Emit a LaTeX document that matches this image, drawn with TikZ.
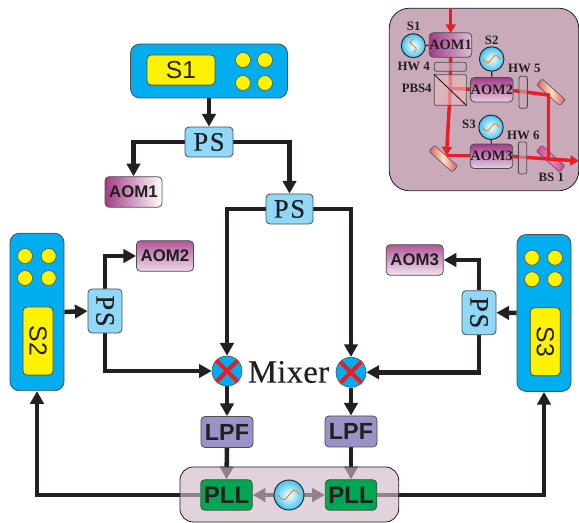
\documentclass[tikz,border=0pt]{standalone}
\usepackage{fontspec}
\usepackage{graphicx}
\setmainfont{Liberation Serif}
\newfontfamily\sansfont{Liberation Sans}
\newfontfamily\psfont[LetterSpace=6,FakeBold=0.25]{Liberation Serif}
\newfontfamily\mixfont[LetterSpace=1,FakeBold=0.4]{Liberation Serif}
\usetikzlibrary{arrows.meta,backgrounds}

\definecolor{inkblack}{HTML}{231F20}
\definecolor{boxblue}{HTML}{00AEEF}
\definecolor{boxyellow}{HTML}{FFF200}
\definecolor{psblue}{HTML}{8FD8F8}
\definecolor{lpfviolet}{HTML}{9B93C8}
\definecolor{pllgreen}{HTML}{00A651}
\definecolor{pllback}{RGB}{207,186,199}
\definecolor{insetback}{HTML}{C9AABB}
\definecolor{aomdark}{HTML}{A23C88}
\definecolor{beamred}{HTML}{ED1C24}
\definecolor{bsmagenta}{HTML}{D6388F}

\def\px{0.75pt}

\tikzset{
  wire/.style={inkblack, line width=3.4pt, -{Triangle[length=9.5pt,width=10pt]}},
  beam/.style={beamred, line width=2.6pt},
  beamarrow/.style={beam, -{Triangle[length=6.5pt,width=7.5pt]}},
  rbox/.style={draw=inkblack!80, line width=0.6pt, rounded corners=3pt, inner sep=0pt, text=inkblack},
  source/.style={rbox, fill=boxblue, rounded corners=7pt},
  display/.style={rbox, fill=boxyellow, font=\sansfont\fontsize{18.5}{18.5}\selectfont},
  knob/.style={circle, draw=inkblack!75, line width=0.5pt, fill=boxyellow, inner sep=0pt, minimum size=15*\px},
  psbox/.style={rbox, fill=psblue, font=\psfont\fontsize{20}{20}\selectfont},
  aomtag/.style={rbox, font=\sansfont\bfseries\fontsize{12.6}{12.6}\selectfont, minimum width=57*\px, minimum height=30.5*\px},
  lpfbox/.style={rbox, fill=lpfviolet, font=\sansfont\bfseries\fontsize{17.5}{17.5}\selectfont, minimum width=52*\px, minimum height=31*\px},
  pllbox/.style={rbox, fill=pllgreen, font=\sansfont\bfseries\fontsize{18}{18}\selectfont, minimum width=51.5*\px, minimum height=30.5*\px},
  mixer/.style={circle, draw=inkblack!75, line width=0.5pt, fill=boxblue, inner sep=0pt, minimum size=30*\px},
  crossbar/.style={beamred, line width=3pt},
  osc/.style={circle, draw=inkblack, line width=0.7pt, inner sep=0pt, shade, inner color=white, outer color=boxblue!75},
  inaom/.style={rbox, font=\bfseries\fontsize{10.8}{10.8}\selectfont, minimum width=42.5*\px, minimum height=24.5*\px},
  plate/.style={rbox, rounded corners=1.5pt, fill=insetback, fill opacity=0.6, text opacity=1},
  mirror/.style={draw=inkblack!75, line width=0.5pt, rounded corners=0.8pt, inner sep=0pt, rotate=-42, minimum width=31*\px, minimum height=8*\px},
  pinkmirror/.style={mirror, left color=beamred!55!insetback, right color=beamred!55!insetback, middle color=white!75!orange},
  inlabel/.style={inkblack, inner sep=0pt, font=\bfseries\fontsize{9.6}{9.6}\selectfont},
  stub/.style={inkblack, line width=0.8pt},
  wave/.pic={\draw[orange, line width=0.7pt] plot[domain=-1:1, samples=30, smooth] ({\x*#1}, {-sin(\x*180)*#1*0.42});}
}

\begin{document}
\begin{tikzpicture}[x=\px, y=-\px]
\useasboundingbox (0,0) rectangle (579,523);

% ----------------------------
% MAIN SOURCES
% ----------------------------
\node[source, minimum width=157*\px, minimum height=54*\px] (s1) at (209,71) {};
\node[display, minimum width=68*\px, minimum height=30*\px] (s1d) at (181,70) {S1};
\foreach \kx in {243,265} \foreach \ky in {60,83}
  \node[knob] at (\kx,\ky) {};

\node[source, minimum width=54*\px, minimum height=157.5*\px] (s2) at (37,312) {};
\node[display, minimum width=30*\px, minimum height=68*\px] (s2d) at (38,341) {\rotatebox{-90}{S2}};
\foreach \kx in {25,48.7} \foreach \ky in {256,278}
  \node[knob] at (\kx,\ky) {};

\node[source, minimum width=54*\px, minimum height=157*\px] (s3) at (544,313) {};
\node[display, minimum width=30*\px, minimum height=68*\px] (s3d) at (545.3,341.7) {\rotatebox{-90}{S3}};
\foreach \kx in {532,555} \foreach \ky in {257.7,279.3}
  \node[knob] at (\kx,\ky) {};

% ----------------------------
% SPLITTERS AND AOM TAGS
% ----------------------------
\node[psbox, minimum width=48*\px, minimum height=30*\px] (ps1) at (209,142) {PS};
\node[psbox, minimum width=47*\px, minimum height=30*\px] (ps2) at (289.5,209) {PS};
\node[psbox, minimum width=34*\px, minimum height=44*\px] (ps3) at (105,311) {\rotatebox{-90}{PS}};
\node[psbox, minimum width=34*\px, minimum height=44*\px] (ps4) at (479,312.7) {\rotatebox{-90}{PS}};

\node[aomtag, left color=aomdark, right color=white] (aom1) at (133.5,192) {AOM1};
\node[aomtag, top color=aomdark!85, bottom color=aomdark!20] (aom2) at (165,256) {AOM2};
\node[aomtag, top color=aomdark!85, bottom color=aomdark!15] (aom3) at (414.7,260) {AOM3};

% ----------------------------
% MIXERS, FILTERS, LOCKING UNIT
% ----------------------------
\node[mixer] (mix1) at (227,371) {};
\node[mixer] (mix2) at (351,372.3) {};
\draw[crossbar] (mix1.north west) -- (mix1.south east);
\draw[crossbar] (mix1.north east) -- (mix1.south west);
\draw[crossbar] (mix2.north west) -- (mix2.south east);
\draw[crossbar] (mix2.north east) -- (mix2.south west);
\node[inkblack, inner sep=0pt, font=\mixfont\fontsize{24.5}{24.5}\selectfont] (mixlabel) at (288.5,372) {Mixer};

\node[lpfbox] (lpf1) at (227,432) {LPF};
\node[lpfbox] (lpf2) at (351,431.5) {LPF};
\node[pllbox] (pll1) at (226.5,495) {PLL};
\node[pllbox] (pll2) at (351,495) {PLL};
\node[osc, minimum size=30*\px] (oscn) at (289,495) {};
\pic at (oscn) {wave=11};

% Wires lie under the see-through locking unit
\begin{scope}[on background layer]
\draw[wire] (s1.south) -- (ps1.north);
\draw[wire] (ps1.west) -| (aom1.north);
\draw[wire] (ps1.east) -| (ps2.north);
\draw[wire] (ps2.west) -| (mix1.north);
\draw[wire] (ps2.east) -| (mix2.north);
\draw[wire] (s2.east) -- (ps3.west);
\draw[wire] (ps3.north) |- (aom2.west);
\draw[wire] (ps3.south) |- (mix1.west);
\draw[wire] (s3.west) -- (ps4.east);
\draw[wire] (ps4.north) |- (aom3.east);
\draw[wire] (ps4.south) |- (mix2.east);
\draw[wire] (mix1.south) -- (lpf1.north);
\draw[wire] (mix2.south) -- (lpf2.north);
\draw[wire] (lpf1.south) -- (pll1.north);
\draw[wire] (lpf2.south) -- (pll2.north);
\draw[wire] (pll1.west) -| (s2.south);
\draw[wire] (pll2.east) -| (s3.south);
\draw[wire, line width=2.6pt] (oscn.west) -- (pll1.east);
\draw[wire, line width=2.6pt] (oscn.east) -- (pll2.west);
\node[draw=inkblack, line width=0.6pt, rounded corners=10pt, fill=pllback, fill opacity=0.635, minimum width=218.7*\px, minimum height=55*\px, inner sep=0pt] (pllunit) at (289.3,494.5) {};
\end{scope}

% ----------------------------
% INSET: OPTICAL LAYOUT
% ----------------------------
\node[draw=inkblack, line width=0.6pt, fill=insetback, rounded corners=15pt, minimum width=189.5*\px, minimum height=182.5*\px, inner sep=0pt] (inset) at (484,99.5) {};

% Mirrors lie under the beam
\node[pinkmirror] (m1) at (551,92.3) {};
\node[pinkmirror] (m2) at (443.3,158.7) {};
\node[mirror, left color=bsmagenta, right color=bsmagenta, middle color=bsmagenta!55] (bs1) at (550.7,158.7) {};

\coordinate (bIn) at (450.7,8.5);
\coordinate (bA1) at (450.7,33);
\coordinate (bA1out) at (450.7,55);
\coordinate (bPbs) at (450.3,88.5);
\coordinate (bM2) at (446.5,155.5);
\coordinate (bA3) at (480,155.5);
\coordinate (bA3out) at (505,156);
\coordinate (bOut) at (579,161);
\coordinate (bA2) at (480,89.5);
\coordinate (bA2out) at (505,89.5);
\coordinate (bM1) at (548.5,95);
\coordinate (bBs) at (548.5,160);

\draw[beamarrow] (bIn) -- (bA1);
\draw[beam] (bA1out) -- (bPbs) -- (bA2);
\draw[beamarrow] (bPbs) -- (bM2);
\draw[beam] (bM2) -- (bA3);
\draw[beamarrow] (bA3out) -- (bOut);
\draw[beam, line join=miter] (bA2out) -- (bM1) -- (bBs);

% Plates and cube are see-through
\node[plate, minimum width=32*\px, minimum height=9*\px] (hw4) at (450.3,66.8) {};
\node[plate, minimum width=8.3*\px, minimum height=32*\px] (hw5) at (523.2,92.3) {};
\node[plate, minimum width=8.3*\px, minimum height=32*\px] (hw6) at (522.5,158) {};
\node[plate, rounded corners=0.8pt, fill=pink!70!insetback, minimum width=32*\px, minimum height=30.6*\px] (pbs) at (450.3,90) {};
\draw[inkblack, line width=0.7pt] (pbs.north west) -- (pbs.south east);

\node[inaom, left color=aomdark, right color=aomdark!35] (inaom1) at (450.5,45) {AOM1};
\node[inaom, top color=aomdark, bottom color=aomdark!25] (inaom2) at (491.8,89.7) {AOM2};
\node[inaom, top color=aomdark, bottom color=aomdark!25] (inaom3) at (491.5,156.3) {AOM3};

\node[osc, minimum size=24*\px] (ins1) at (413.3,45.7) {};
\node[osc, minimum size=24.5*\px] (ins2) at (491.7,59) {};
\node[osc, minimum size=24.5*\px] (ins3) at (491,127.3) {};
\pic[rotate=90] at (ins1) {wave=7};
\pic at (ins2) {wave=8.5};
\pic at (ins3) {wave=8.5};
\draw[stub] (ins1.east) -- (inaom1.west);
\draw[stub] (ins2.south) -- (inaom2.north);
\draw[stub] (ins3.south) -- (inaom3.north);

\node[inlabel] at (413.7,26) {S1};
\node[inlabel] at (491.7,40) {S2};
\node[inlabel] at (469,124.3) {S3};
\node[inlabel] at (413.7,66.7) {HW 4};
\node[inlabel] at (524.3,68.3) {HW 5};
\node[inlabel] at (523.3,135.3) {HW 6};
\node[inlabel] at (416.7,88.3) {PBS4};
\node[inlabel] at (551.3,177.3) {BS 1};

\end{tikzpicture}
\end{document}
